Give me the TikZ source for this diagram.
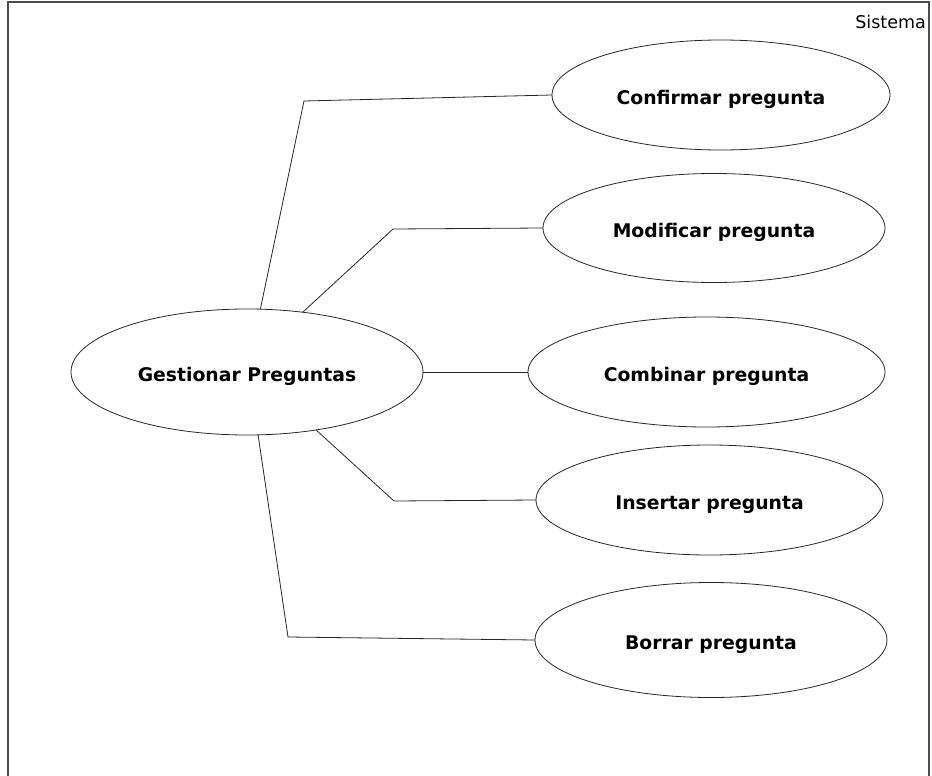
\documentclass[tikz,border=0pt]{standalone}
\usepackage{fontspec}
\setmainfont{DejaVu Sans}
\usetikzlibrary{shapes.geometric}
\begin{document}
\begin{tikzpicture}[x=1pt,y=-1pt,
  usecase/.style={ellipse,draw=black!85,line width=0.8pt,inner sep=0pt,outer sep=0pt,
    text height=18pt,text depth=0pt,
    font=\fontsize{18.8}{22}\selectfont\bfseries},
  link/.style={draw=black!85,line width=0.8pt},
  frame/.style={draw=black!70,line width=1.2pt}]
\useasboundingbox (0,0) rectangle (932,776);
% system boundary
\draw[frame] (8,776) -- (8,2) -- (929,2) -- (929,776);
\node[anchor=base east,font=\fontsize{17.5}{20}\selectfont,inner sep=0pt] (sys) at (926,29) {Sistema};
% use cases
\node[usecase,minimum width=352pt,minimum height=126pt] (main) at (247,372) {Gestionar Preguntas};
\node[usecase,minimum width=338pt,minimum height=110pt] (conf) at (721,95) {Confirmar pregunta};
\node[usecase,minimum width=342pt,minimum height=109pt] (modi) at (714,228) {Modificar pregunta};
\node[usecase,minimum width=357pt,minimum height=110pt] (comb) at (706.5,372) {Combinar pregunta};
\node[usecase,minimum width=347pt,minimum height=110pt] (inse) at (709.5,500) {Insertar pregunta};
\node[usecase,minimum width=352pt,minimum height=115pt] (borr) at (711,640) {Borrar pregunta};
% bend points
\coordinate (b1) at (304,101);
\coordinate (b2) at (393,229);
\coordinate (b4) at (394,501);
\coordinate (b5) at (288,637);
% associations
\draw[link] (main.78) -- (b1) -- (conf.west);
\draw[link] (main.47) -- (b2) -- (modi.west);
\draw[link] (main.east) -- (comb.west);
\draw[link] (main.-40) -- (b4) -- (inse.west);
\draw[link] (main.-80) -- (b5) -- (borr.west);
\end{tikzpicture}
\end{document}
